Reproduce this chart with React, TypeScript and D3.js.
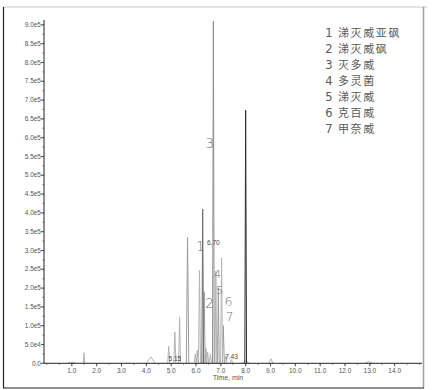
import React from "react";
import * as d3 from "d3";

// Chromatogram peaks: retention time (min), apex intensity (cps), half base width (min), trace index
const peakRT = [1.02, 1.49, 4.18, 4.9, 5.15, 5.34, 5.66, 5.97, 6.05, 6.14, 6.27, 6.33, 6.4, 6.47, 6.58, 6.7, 6.8, 6.9, 7.03, 7.1, 7.2, 7.43, 8.0, 8.0, 9.02, 12.95];
const peakHeight = [0.03e5, 0.28e5, 0.17e5, 0.45e5, 0.83e5, 1.23e5, 3.35e5, 0.25e5, 0.35e5, 2.47e5, 4.1e5, 1.9e5, 0.4e5, 0.3e5, 0.25e5, 9.1e5, 2.45e5, 2.0e5, 2.8e5, 1.0e5, 0.2e5, 0.1e5, 6.73e5, 0.07e5, 0.12e5, 0.05e5];
const peakHalfWidth = [0.15, 0.03, 0.18, 0.04, 0.04, 0.04, 0.05, 0.04, 0.04, 0.04, 0.035, 0.04, 0.04, 0.04, 0.04, 0.035, 0.035, 0.035, 0.04, 0.04, 0.05, 0.05, 0.035, 0.14, 0.08, 0.15];
const peakTrace = [0, 0, 0, 0, 0, 0, 1, 0, 0, 0, 2, 1, 0, 0, 0, 3, 0, 1, 0, 1, 0, 0, 4, 0, 0, 0];

// Retention-time labels printed beside peaks
const rtLabels = ["5.15", "6.70", "7.43"];
const rtLabelTime = [5.15, 6.7, 7.43];
const rtLabelLevel = [0.12e5, 3.2e5, 0.17e5];

// Compound numbers marked on the chromatogram
const compoundNumbers = ["1", "2", "3", "4", "5", "6", "7"];
const compoundTime = [6.18, 6.54, 6.55, 6.87, 6.95, 7.31, 7.35];
const compoundLevel = [3.12e5, 1.6e5, 5.86e5, 2.38e5, 1.95e5, 1.63e5, 1.25e5];
const compoundFontSize = [14, 14, 14, 11, 11, 12, 12];

// Legend entries
const compoundNames = ["涕灭威亚砜", "涕灭威砜", "灭多威", "多灵菌", "涕灭威", "克百威", "甲奈威"];

// Axis ticks
const xTicks = d3.range(1, 15, 1);
const xMinorTicks = d3.range(0, 15.01, 0.5);
const yTicks = d3.range(0, 9.01e5, 0.5e5);
const yMinorTicks = d3.range(0, 9.01e5, 0.25e5);

const TRACE_COLORS = ["#b4b4b4", "#9c9c9c", "#6e6e6e", "#8e8e8e", "#2e2e2e"];

const W = 432;
const H = 390;

function fmtY(v: number): string {
  if (v === 0) return "0.0";
  const e = Math.floor(Math.log10(v) + 1e-9);
  const m = v / Math.pow(10, e);
  return `${m.toFixed(1)}e${e}`;
}

export default function App() {
  const x = d3.scaleLinear().domain([-0.12, 15.1]).range([44, 422]);
  const y = d3.scaleLinear().domain([0, 9.13e5]).range([363.3, 20]);
  const line = d3
    .line<[number, number]>()
    .x((d) => x(d[0]))
    .y((d) => y(d[1]));

  const peaks = peakRT.map((rt, i) => {
    const hw = peakHalfWidth[i];
    const pts: [number, number][] = [
      [rt - hw, 0],
      [rt, peakHeight[i]],
      [rt + hw, 0],
    ];
    return { d: line(pts) || "", color: TRACE_COLORS[peakTrace[i]], h: peakHeight[i] };
  });
  // draw small peaks first, tall ones on top
  const ordered = peaks.slice().sort((a, b) => a.h - b.h);

  const axisFont = "'Liberation Sans', Arial, sans-serif";
  const x0 = 44;
  const yBase = y(0);

  return (
    <svg
      width={W}
      height={H}
      style={{ position: "absolute", left: 0, top: 0, background: "#fff" }}
      fontFamily={axisFont}
    >
      <rect x={0} y={0} width={W} height={H} fill="#fff" />
      {/* frame */}
      <line x1={3} y1={7} x2={427} y2={7} stroke="#c8c8c8" strokeWidth={1} />
      <line x1={423.5} y1={7} x2={423.5} y2={388} stroke="#a0a0a0" strokeWidth={1.5} />
      <line x1={3.5} y1={7} x2={3.5} y2={388} stroke="#222" strokeWidth={1.2} />
      <line x1={3} y1={388} x2={424} y2={388} stroke="#222" strokeWidth={1.2} />

      {/* peaks */}
      <g fill="none" strokeWidth={1}>
        {ordered.map((p, i) => (
          <path key={i} d={p.d} stroke={p.color} />
        ))}
      </g>

      {/* y axis */}
      <line x1={x0} y1={20} x2={x0} y2={yBase} stroke="#222" strokeWidth={1} />
      {yMinorTicks.map((v, i) => (
        <line key={"ym" + i} x1={x0 - 1.5} x2={x0} y1={y(v)} y2={y(v)} stroke="#444" strokeWidth={0.8} />
      ))}
      {yTicks.map((v, i) => (
        <g key={"y" + i}>
          <line x1={x0 - 3} x2={x0} y1={y(v)} y2={y(v)} stroke="#333" strokeWidth={0.8} />
          <text x={x0 - 3} y={y(v) + 2.2} fontSize={6.5} textAnchor="end" fill="#555">
            {fmtY(v)}
          </text>
        </g>
      ))}

      {/* x axis */}
      <line x1={x0} y1={yBase} x2={422} y2={yBase} stroke="#222" strokeWidth={1} />
      {xMinorTicks.map((v, i) => (
        <line key={"xm" + i} x1={x(v)} x2={x(v)} y1={yBase} y2={yBase + 1.5} stroke="#555" strokeWidth={0.8} />
      ))}
      {xTicks.map((v, i) => (
        <g key={"x" + i}>
          <line x1={x(v)} x2={x(v)} y1={yBase} y2={yBase + 3} stroke="#333" strokeWidth={0.8} />
          <text x={x(v)} y={yBase + 9.5} fontSize={6.5} textAnchor="middle" fill="#555">
            {v.toFixed(1)}
          </text>
        </g>
      ))}
      <text x={228} y={380} fontSize={7} textAnchor="middle" fill="#555">
        Time, min
      </text>

      {/* retention time labels */}
      {rtLabels.map((t, i) => (
        <text key={"rt" + i} x={x(rtLabelTime[i])} y={y(rtLabelLevel[i]) + 2.5} fontSize={6.5} textAnchor="middle" fill="#444">
          {t}
        </text>
      ))}

      {/* compound numbers */}
      {compoundNumbers.map((n, i) => (
        <text
          key={"cn" + i}
          x={x(compoundTime[i])}
          y={y(compoundLevel[i]) + compoundFontSize[i] * 0.36}
          fontSize={compoundFontSize[i]}
          textAnchor="middle"
          fill="#6e6e6e"
          fontFamily="'DejaVu Sans', sans-serif"
          fontWeight={200}
        >
          {n}
        </text>
      ))}

      {/* legend */}
      <g fill="#5a5a5a" fontSize={11} fontFamily="'Noto Sans CJK SC', 'Noto Sans', sans-serif">
        {compoundNames.map((name, i) => (
          <g key={"lg" + i}>
            <text x={329} y={36.5 + i * 16.1} textAnchor="middle" fontFamily="'DejaVu Sans', sans-serif" fontSize={11.5}>
              {compoundNumbers[i]}
            </text>
            <text x={338} y={36.5 + i * 16.1} letterSpacing={1.6}>
              {name}
            </text>
          </g>
        ))}
      </g>
    </svg>
  );
}
